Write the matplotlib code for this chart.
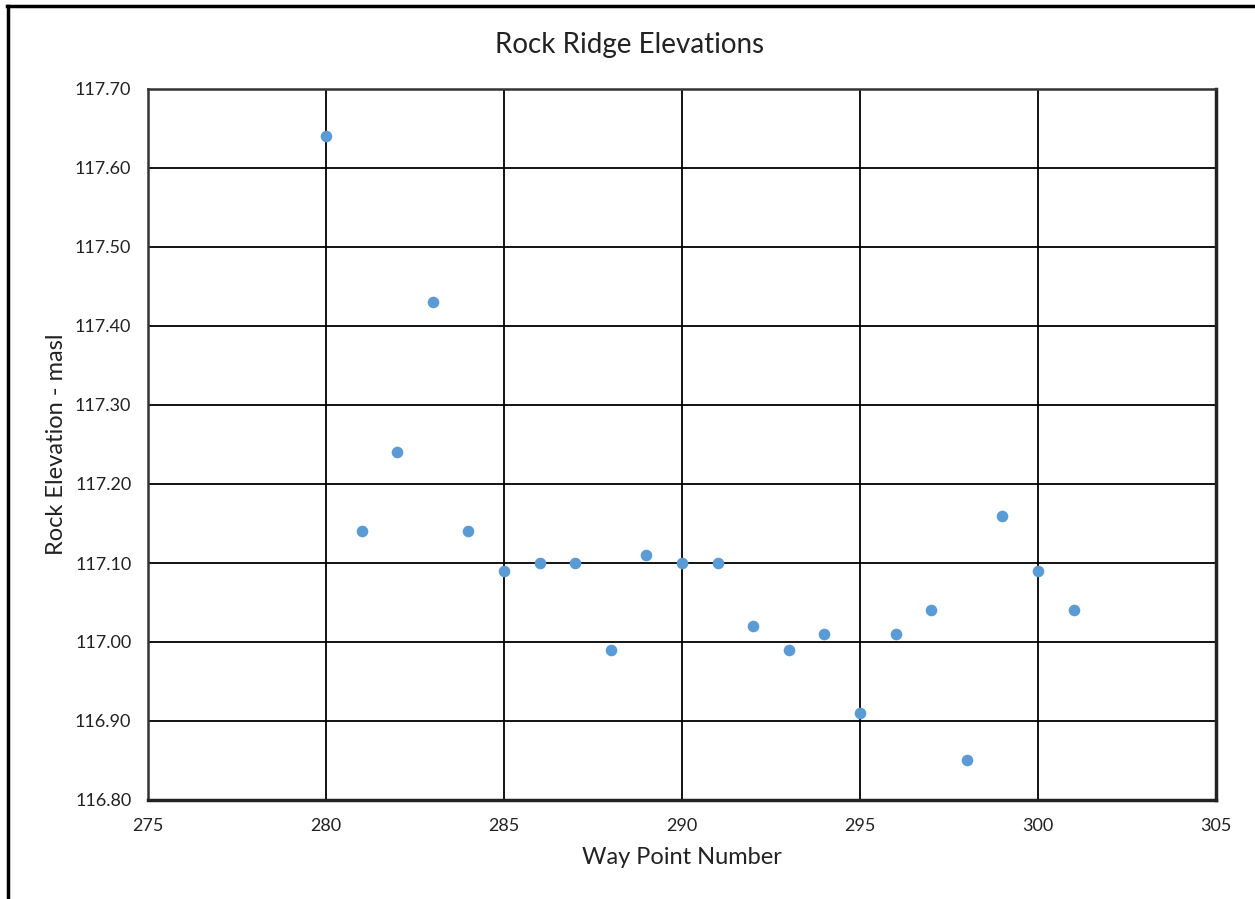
import matplotlib.pyplot as plt
from matplotlib.lines import Line2D

# way point number vs rock elevation (masl)
way_points = [280, 281, 282, 283, 284, 285, 286, 287, 288, 289, 290,
              291, 292, 293, 294, 295, 296, 297, 298, 299, 300, 301]
elevations = [117.64, 117.14, 117.24, 117.43, 117.14, 117.09, 117.10, 117.10,
              116.99, 117.11, 117.10, 117.10, 117.02, 116.99, 117.01, 116.91,
              117.01, 117.04, 116.85, 117.16, 117.09, 117.04]

x_ticks = [275, 280, 285, 290, 295, 300, 305]
y_ticks = [116.80, 116.90, 117.00, 117.10, 117.20, 117.30, 117.40, 117.50, 117.60, 117.70]

plt.rcParams['font.family'] = ['Lato', 'DejaVu Sans']

fig = plt.figure(figsize=(12.55, 8.99), dpi=100)
ax = fig.add_axes([148 / 1255, 1 - 800 / 899, (1216 - 148) / 1255, (800 - 89) / 899])

ax.scatter(way_points, elevations, s=70, color='#5B9BD5', zorder=3, linewidths=0)

ax.set_xlim(275, 305)
ax.set_ylim(116.80, 117.70)
ax.set_xticks(x_ticks)
ax.set_yticks(y_ticks)
ax.set_yticklabels([f'{v:.2f}' for v in y_ticks])
ax.tick_params(length=0, labelsize=13, colors='#222222')
ax.tick_params(axis='x', pad=13)
ax.tick_params(axis='y', pad=12)
ax.grid(True, color='black', linewidth=1.3)
ax.set_axisbelow(True)
for side in ['top', 'left']:
    ax.spines[side].set_linewidth(1.8)
    ax.spines[side].set_color('#333333')
for side in ['bottom', 'right']:
    ax.spines[side].set_linewidth(2.5)
    ax.spines[side].set_color('#222222')

ax.set_xlabel('Way Point Number', fontsize=17, labelpad=9, color='#222222')
ax.set_ylabel('Rock Elevation - masl', fontsize=17, labelpad=6, color='#222222')
fig.text(630 / 1255, 1 - 45 / 899, 'Rock Ridge Elevations', fontsize=20,
         ha='center', va='center', color='#222222')

# outer frame (top and left only)
fig.add_artist(Line2D([7 / 1255, 1], [1 - 6 / 899, 1 - 6 / 899], color='black', linewidth=2.5,
                      transform=fig.transFigure))
fig.add_artist(Line2D([7.5 / 1255, 7.5 / 1255], [0, 1 - 6 / 899], color='black', linewidth=2.5,
                      transform=fig.transFigure))

plt.savefig('out.png', dpi=100)
